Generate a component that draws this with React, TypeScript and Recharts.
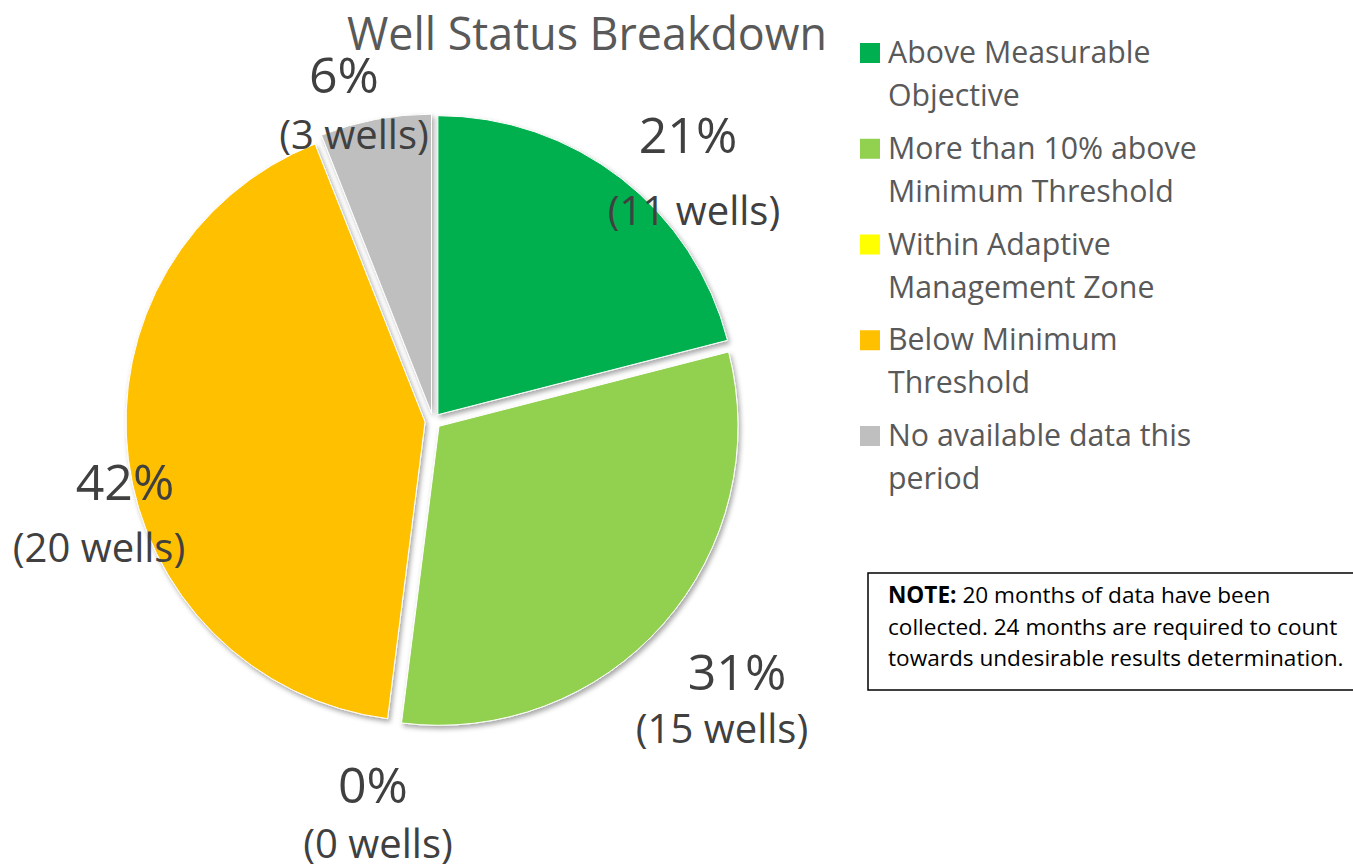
import React from 'react';
import { PieChart, Pie, Cell, Legend } from 'recharts';

// ---- data ----
const categories = [
  'Above Measurable Objective',
  'More than 10% above Minimum Threshold',
  'Within Adaptive Management Zone',
  'Below Minimum Threshold',
  'No available data this period',
];
const percentValues = [21, 31, 0, 42, 6];
const wellCounts = [11, 15, 0, 20, 3];
const legendLines = [
  ['Above Measurable', 'Objective'],
  ['More than 10% above', 'Minimum Threshold'],
  ['Within Adaptive', 'Management Zone'],
  ['Below Minimum', 'Threshold'],
  ['No available data this', 'period'],
];
const chartTitle = 'Well Status Breakdown';
const noteBold = 'NOTE:';
const noteLines = [
  ' 20 months of data have been',
  'collected. 24 months are required to count',
  'towards undesirable results determination.',
];

// ---- styles / layout ----
const colors = ['#00B050', '#92D050', '#FFFF00', '#FFC000', '#BFBFBF'];
const FONT = '"Open Sans", "Noto Sans", sans-serif';
const W = 1353;
const H = 866;
const CX = 433;
const CY = 421;
const R = 299;
const EXPLODE = 8;
const PCT_SIZE = 50;
const WELL_SIZE = 40;
// label text centres relative to the pie centre
const labelOffsets = [
  { px: 255, py: -286, wx: 261, wy: -210 },
  { px: 304, py: 251, wx: 289, wy: 308 },
  { px: -60, py: 364, wx: -55, wy: 423 },
  { px: -308, py: 61, wx: -334, wy: 127 },
  { px: -89, py: -346, wx: -79, wy: -286 },
];

const data = categories.map((name, i) => ({
  name,
  value: percentValues[i],
  wells: wellCounts[i],
}));

const total = percentValues.reduce((a, b) => a + b, 0);
const midAngles = (() => {
  let cum = 0;
  return percentValues.map((v) => {
    const start = 90 - (360 * cum) / total;
    const end = start - (360 * v) / total;
    cum += v;
    return (start + end) / 2;
  });
})();

const renderLabel = (props: any) => {
  const i = props.index;
  const o = labelOffsets[i];
  const cx = typeof props.cx === 'number' ? props.cx : CX;
  const cy = typeof props.cy === 'number' ? props.cy : CY;
  return (
    <g key={`lbl-${i}`}>
      <text
        x={cx + o.px}
        y={cy + o.py + PCT_SIZE * 0.357}
        textAnchor="middle"
        fontSize={PCT_SIZE}
        fontFamily={FONT}
        fill="#404040"
      >
        {`${percentValues[i]}%`}
      </text>
      <text
        x={cx + o.wx}
        y={cy + o.wy + WELL_SIZE * 0.357}
        textAnchor="middle"
        fontSize={WELL_SIZE}
        fontFamily={FONT}
        fill="#404040"
      >
        {`(${wellCounts[i]} wells)`}
      </text>
    </g>
  );
};

const renderLegend = () => (
  <svg width={480} height={480} style={{ overflow: 'visible' }}>
    {legendLines.map((lines, i) => {
      const base = 33 + i * 95.75;
      return (
        <g key={categories[i]}>
          <rect x={4} y={base - 20} width={20} height={20} fill={colors[i]} />
          {lines.map((ln, k) => (
            <text
              key={k}
              x={32}
              y={base + k * 43}
              fontSize={30.3}
              fontFamily={FONT}
              fill="#595959"
            >
              {ln}
            </text>
          ))}
        </g>
      );
    })}
  </svg>
);

export default function App() {
  return (
    <div
      style={{
        position: 'absolute',
        left: 0,
        top: 0,
        width: W,
        height: H,
        background: '#fff',
        fontFamily: FONT,
      }}
    >
      <PieChart width={W} height={H} margin={{ top: 0, right: 0, bottom: 0, left: 0 }}>
        <defs>
          <filter id="sliceShadow" x="-20%" y="-20%" width="140%" height="140%">
            <feDropShadow dx="2" dy="3" stdDeviation="2.5" floodColor="#000" floodOpacity="0.35" />
          </filter>
        </defs>
        <text
          x={587}
          y={50}
          textAnchor="middle"
          fontSize={44.8}
          fontFamily={FONT}
          fill="#595959"
        >
          {chartTitle}
        </text>
        {data.map((d, i) => {
          const rad = (midAngles[i] * Math.PI) / 180;
          return (
            <Pie
              key={`slice-${i}`}
              data={data}
              dataKey="value"
              nameKey="name"
              cx={CX + EXPLODE * Math.cos(rad)}
              cy={CY - EXPLODE * Math.sin(rad)}
              outerRadius={R}
              startAngle={90}
              endAngle={-270}
              isAnimationActive={false}
              labelLine={false}
              legendType="none"
            >
              {data.map((e, j) => (
                <Cell
                  key={`c-${j}`}
                  fill={j === i ? colors[j] : 'transparent'}
                  stroke={j === i ? '#ffffff' : 'none'}
                  strokeWidth={j === i ? 1 : 0}
                  filter={j === i ? 'url(#sliceShadow)' : undefined}
                />
              ))}
            </Pie>
          );
        })}
        <Pie
          data={data}
          dataKey="value"
          nameKey="name"
          cx={CX}
          cy={CY}
          outerRadius={R}
          startAngle={90}
          endAngle={-270}
          isAnimationActive={false}
          labelLine={false}
          label={renderLabel}
          fill="transparent"
          stroke="none"
          legendType="none"
        >
          {data.map((e, j) => (
            <Cell key={`l-${j}`} fill="transparent" stroke="none" />
          ))}
        </Pie>
        <Legend
          layout="vertical"
          align="right"
          verticalAlign="top"
          content={renderLegend}
          wrapperStyle={{ left: 856, top: 30, width: 480, height: 480, right: 'auto' }}
        />
        <rect x={868} y={573} width={492} height={117} fill="#fff" stroke="#000" strokeWidth={1.5} />
        <text x={888} y={603} fontSize={22.6} fontFamily={FONT} fill="#000">
          <tspan fontWeight="bold">{noteBold}</tspan>
          <tspan>{noteLines[0]}</tspan>
        </text>
        <text x={888} y={635} fontSize={22.6} fontFamily={FONT} fill="#000">
          {noteLines[1]}
        </text>
        <text x={888} y={666} fontSize={22.6} fontFamily={FONT} fill="#000">
          {noteLines[2]}
        </text>
      </PieChart>
    </div>
  );
}
